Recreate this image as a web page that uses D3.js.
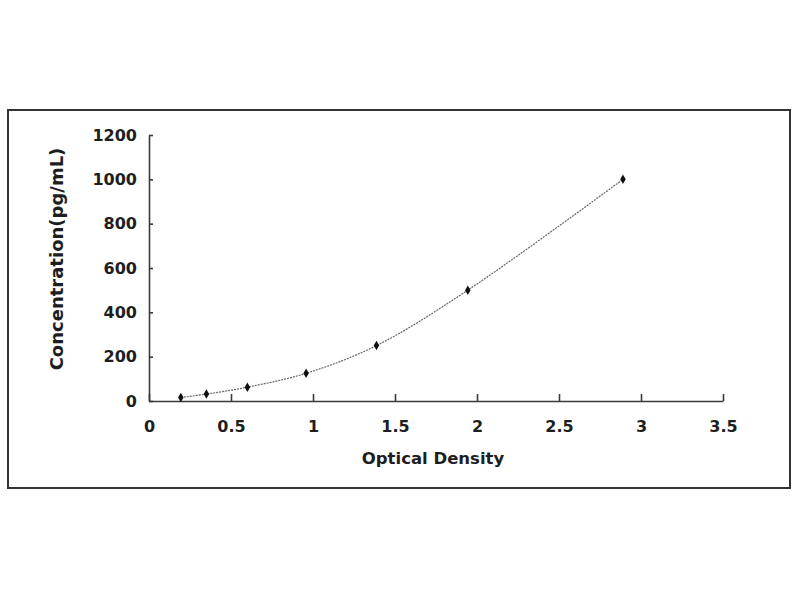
<!DOCTYPE html>
<html>
<head>
<meta charset="utf-8">
<script src="https://cdn.jsdelivr.net/npm/d3@7"></script>
<style>
  body { margin: 0; background: #fff; }
  svg text { font-family: "DejaVu Sans", sans-serif; font-weight: bold; fill: #1e1e1e; }
  .axis path, .axis line { stroke: #3a3a3a; stroke-width: 1.6; }
</style>
</head>
<body>
<svg id="chart" width="800" height="600"></svg>
<script>
// Standard curve: optical density vs concentration
const opticalDensity = [0.194, 0.35, 0.60, 0.958, 1.387, 1.944, 2.89];
const concentration = [15.6, 31.25, 62.5, 125, 250, 500, 1000];
const xTicks = [0, 0.5, 1, 1.5, 2, 2.5, 3, 3.5];
const yTicks = [0, 200, 400, 600, 800, 1000, 1200];

const svg = d3.select("#chart");

// Outer frame
svg.append("rect")
  .attr("x", 8).attr("y", 110)
  .attr("width", 782).attr("height", 378)
  .attr("fill", "#fff")
  .attr("stroke", "#333").attr("stroke-width", 2);

const x = d3.scaleLinear().domain([0, 3.5]).range([149, 723]);
const y = d3.scaleLinear().domain([0, 1200]).range([401, 135]);

const xAxis = d3.axisBottom(x).tickValues(xTicks).tickFormat(d3.format("")).tickSizeInner(-7).tickSizeOuter(0).tickPadding(20);
const yAxis = d3.axisLeft(y).tickValues(yTicks).tickFormat(d3.format("")).tickSizeInner(-4).tickSizeOuter(0).tickPadding(12);

svg.append("g").attr("class", "axis")
  .attr("transform", `translate(0, ${y(0)})`)
  .call(xAxis)
  .call((g) => g.selectAll("text").attr("font-size", 16).attr("fill", "#1e1e1e"));

svg.append("g").attr("class", "axis")
  .attr("transform", `translate(${x(0)}, 0)`)
  .call(yAxis)
  .call((g) => g.selectAll("text").attr("font-size", 16).attr("fill", "#1e1e1e"));

// Fitted curve through the standards
const points = opticalDensity.map((d, i) => ({ od: d, c: concentration[i] }));
const line = d3.line()
  .x((d) => x(d.od))
  .y((d) => y(d.c))
  .curve(d3.curveCatmullRom);

svg.append("path")
  .datum(points)
  .attr("d", line)
  .attr("fill", "none")
  .attr("stroke", "#666")
  .attr("stroke-width", 1.2)
  .attr("stroke-dasharray", "2,1");

svg.append("g")
  .selectAll("path")
  .data(points)
  .join("path")
  .attr("transform", (d) => `translate(${x(d.od)}, ${y(d.c)})`)
  .attr("d", d3.symbol(d3.symbolDiamond, 26))
  .attr("fill", "#111");

// Axis titles
svg.append("text")
  .attr("x", 433).attr("y", 464)
  .attr("text-anchor", "middle")
  .attr("font-size", 16.5)
  .text("Optical Density");

svg.append("text")
  .attr("transform", "translate(63, 259) rotate(-90)")
  .attr("text-anchor", "middle")
  .attr("font-size", 18)
  .text("Concentration(pg/mL)");
</script>
</body>
</html>
